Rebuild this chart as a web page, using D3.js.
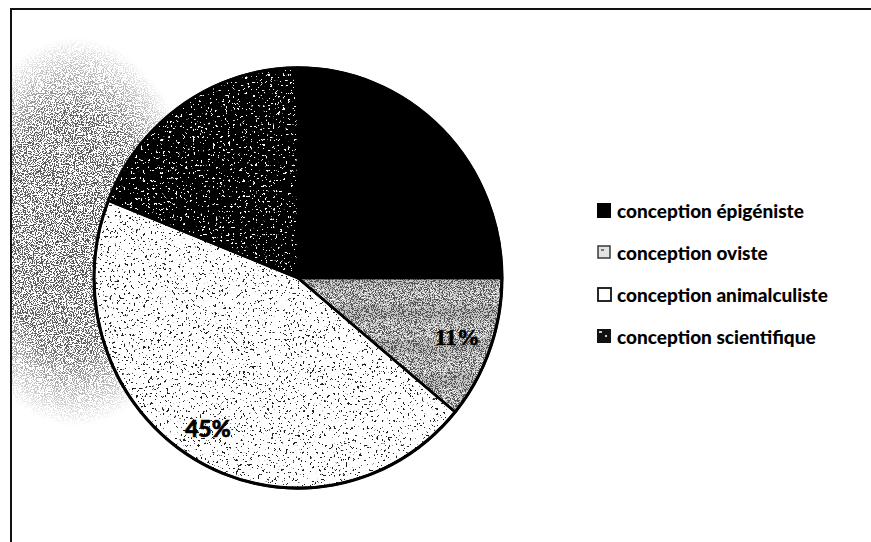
<!DOCTYPE html>
<html>
<head>
<meta charset="utf-8">
<script src="https://cdn.jsdelivr.net/npm/d3@7"></script>
<style>
  html, body { margin: 0; padding: 0; background: #fff; }
  svg { display: block; }
</style>
</head>
<body>
<svg id="chart" width="871" height="542"></svg>
<script>
// Répartition des conceptions (en %)
const categories = ["conception épigéniste", "conception oviste", "conception animalculiste", "conception scientifique"];
const values = [25, 11, 45, 19];
const valueLabels = ["25%", "11%", "45%", "19%"];

const W = 871, H = 542;
const cx = 298, cy = 278, r = 204, yStretch = 1.03;

const svg = d3.select("#chart");
const defs = svg.append("defs");

// Speckle filter: thresholded noise, coloured, clipped to the shape it is applied to
function speckle(id, { freq, octaves = 2, seed, k = 22, t, color }) {
  const f = defs.append("filter").attr("id", id)
    .attr("x", 0).attr("y", 0).attr("width", 1).attr("height", 1)
    .attr("color-interpolation-filters", "sRGB");
  f.append("feTurbulence").attr("type", "fractalNoise")
    .attr("baseFrequency", freq).attr("numOctaves", octaves).attr("seed", seed).attr("result", "noise");
  const c = d3.color(color);
  const R = c.r / 255, G = c.g / 255, B = c.b / 255;
  f.append("feColorMatrix").attr("in", "noise").attr("type", "matrix")
    .attr("values", `0 0 0 0 ${R}  0 0 0 0 ${G}  0 0 0 0 ${B}  ${k} 0 0 0 ${-k * t}`)
    .attr("result", "dots");
  f.append("feComposite").attr("in", "dots").attr("in2", "SourceGraphic").attr("operator", "in");
}

speckle("dotsOviste", { freq: 1.1, seed: 4, t: 0.5, color: "#555555" });
speckle("dotsOvisteLight", { freq: 1.0, seed: 9, t: 0.6, color: "#ffffff" });
speckle("dotsAnimal", { freq: 0.42, octaves: 4, seed: 7, k: 30, t: 0.655, color: "#1e1e1e" });
speckle("dotsScience", { freq: 0.4, octaves: 4, seed: 11, k: 30, t: 0.67, color: "#ffffff" });
speckle("dotsHalo", { freq: 0.9, octaves: 3, seed: 2, t: 0.5, color: "#4d4d4d" });

// Soft mask for the grey stipple left of the pie
const grad = defs.append("radialGradient").attr("id", "haloGrad")
  .attr("gradientUnits", "userSpaceOnUse")
  .attr("cx", 0).attr("cy", 0).attr("r", 1)
  .attr("gradientTransform", "translate(75,232) scale(125,195)");
grad.append("stop").attr("offset", 0).attr("stop-color", "#fff").attr("stop-opacity", 1);
grad.append("stop").attr("offset", 0.6).attr("stop-color", "#fff").attr("stop-opacity", 0.9);
grad.append("stop").attr("offset", 1).attr("stop-color", "#fff").attr("stop-opacity", 0);
const mask = defs.append("mask").attr("id", "haloMask").attr("maskUnits", "userSpaceOnUse")
  .attr("x", 0).attr("y", 0).attr("width", W).attr("height", H);
mask.append("rect").attr("x", 0).attr("y", 0).attr("width", W).attr("height", H).attr("fill", "url(#haloGrad)");

svg.append("g").attr("mask", "url(#haloMask)")
  .append("rect").attr("x", 12).attr("y", 36).attr("width", 260).attr("height", 410)
  .attr("fill", "#000").attr("filter", "url(#dotsHalo)");

// Frame (top and left edges)
svg.append("line").attr("x1", 10).attr("y1", 9).attr("x2", W).attr("y2", 9)
  .attr("stroke", "#111").attr("stroke-width", 2);
svg.append("line").attr("x1", 11).attr("y1", 8).attr("x2", 11).attr("y2", H)
  .attr("stroke", "#111").attr("stroke-width", 2);

// Per-slice appearance: base fill plus speckle overlays
const looks = [
  { base: "#000000", overlays: [], dark: true },
  { base: "#c4c4c4", overlays: ["dotsOviste", "dotsOvisteLight"], dark: false },
  { base: "#ffffff", overlays: ["dotsAnimal"], dark: false },
  { base: "#000000", overlays: ["dotsScience"], dark: true }
];

const pie = d3.pie().sort(null).value(d => d)(values);
const arc = d3.arc().innerRadius(0).outerRadius(r);
const labelArc = d3.arc().innerRadius(r * 0.83).outerRadius(r * 0.83);

const pieG = svg.append("g").attr("transform", `translate(${cx},${cy}) scale(1,${yStretch})`);

pie.forEach((p, i) => {
  const g = pieG.append("g");
  g.append("path").attr("d", arc(p)).attr("fill", looks[i].base);
  looks[i].overlays.forEach(fid => {
    g.append("path").attr("d", arc(p)).attr("fill", "#000").attr("filter", `url(#${fid})`);
  });
});
// Slice borders
pie.forEach(p => {
  pieG.append("path").attr("d", arc(p)).attr("fill", "none")
    .attr("stroke", "#000").attr("stroke-width", 2.5).attr("stroke-linejoin", "round");
});
pieG.append("circle").attr("r", r).attr("fill", "none").attr("stroke", "#000").attr("stroke-width", 3);

// Value labels on the light slices
pie.forEach((p, i) => {
  if (looks[i].dark) return;
  const [lx, ly] = labelArc.centroid(p);
  svg.append("text")
    .attr("x", cx + lx - (i === 2 ? 4 : 0)).attr("y", cy + ly * yStretch)
    .attr("text-anchor", "middle").attr("dominant-baseline", "central")
    .attr("font-family", i === 1 ? "'Liberation Serif', serif" : "Lato, sans-serif")
    .attr("font-weight", 900).attr("font-size", 23)
    .attr("fill", "#000").attr("stroke", "#000").attr("stroke-width", 0.6)
    .text(valueLabels[i]);
});

// Legend
const legend = svg.append("g").attr("transform", "translate(597,203)");
const rowStep = 42;
categories.forEach((name, i) => {
  const row = legend.append("g").attr("transform", `translate(0,${i * rowStep})`);
  if (i === 0) {
    row.append("rect").attr("width", 14).attr("height", 15).attr("fill", "#000");
  } else if (i === 1) {
    row.append("rect").attr("x", 1).attr("y", 1).attr("width", 12).attr("height", 12)
      .attr("fill", "#e2e2e2").attr("stroke", "#444").attr("stroke-width", 1.6);
    row.append("rect").attr("x", 4).attr("y", 4).attr("width", 3).attr("height", 2).attr("fill", "#777");
  } else if (i === 2) {
    row.append("rect").attr("x", 1).attr("y", 1).attr("width", 13).attr("height", 13)
      .attr("fill", "#fff").attr("stroke", "#111").attr("stroke-width", 1.8);
  } else {
    row.append("rect").attr("width", 14).attr("height", 14).attr("fill", "#111");
    row.append("rect").attr("x", 2).attr("y", 2).attr("width", 3).attr("height", 2).attr("fill", "#ccc");
    row.append("rect").attr("x", 8).attr("y", 6).attr("width", 2).attr("height", 2).attr("fill", "#ccc");
  }
  row.append("text").attr("x", 20).attr("y", 15)
    .attr("font-family", "Lato, sans-serif").attr("font-weight", 900).attr("font-size", 19)
    .attr("fill", "#000")
    .text(name);
});
</script>
</body>
</html>
